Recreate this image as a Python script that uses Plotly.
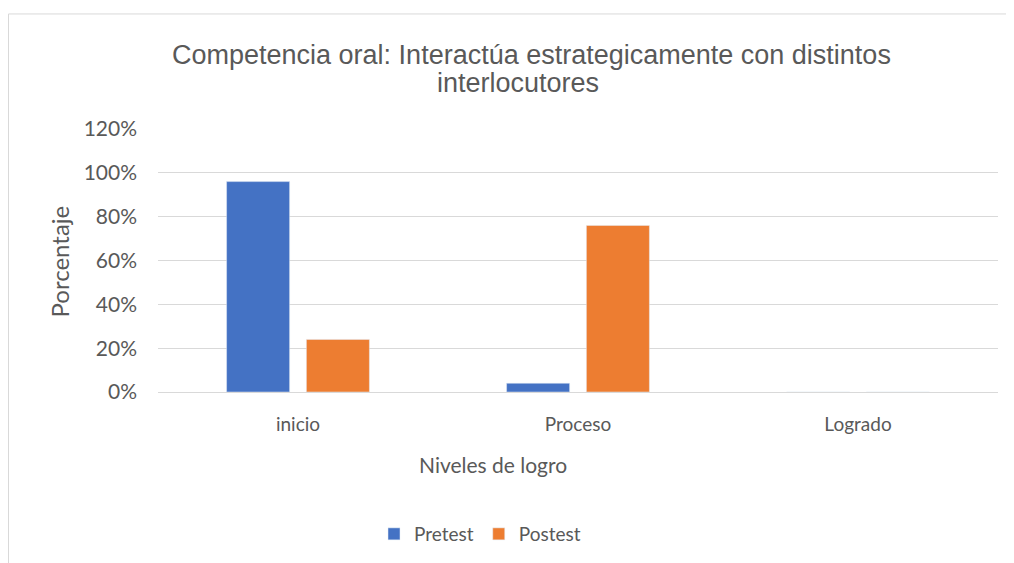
import plotly.graph_objects as go

categories = ["inicio", "Proceso", "Logrado"]
pretest = [0.96, 0.04, 0.0]
postest = [0.24, 0.76, 0.0]
series_names = ["Pretest", "Postest"]
y_ticks = [0, 0.2, 0.4, 0.6, 0.8, 1.0, 1.2]
y_tick_labels = ["0%", "20%", "40%", "60%", "80%", "100%", "120%"]
title_lines = ["Competencia oral: Interactúa estrategicamente con distintos", "interlocutores"]

# page body has an 8px margin; work in window pixel coordinates
OFF = 8
W, H = 1014 - OFF, 563 - OFF
L, R, T, B = 158, 998, 129, 393   # plot area in window pixels

def px(x):
    return (x - L) / (R - L)

def py(y):
    return (B - y) / (B - T)

font_main = "Lato, 'Noto Sans', sans-serif"
font_title = "'Liberation Sans', Arial, sans-serif"
grey = "#595959"

fig = go.Figure()
fig.add_trace(go.Bar(x=categories, y=pretest, name=series_names[0], marker_color="#4472C4"))
fig.add_trace(go.Bar(x=categories, y=postest, name=series_names[1], marker_color="#ED7D31"))

fig.update_layout(
    width=W, height=H,
    margin=dict(l=L - OFF, r=1014 - R, t=T - OFF, b=563 - B),
    paper_bgcolor="white", plot_bgcolor="white",
    barmode="group", bargap=0.43, bargroupgap=0.21,
    font=dict(family=font_main, color=grey, size=19),
    showlegend=True,
    legend=dict(orientation="h", x=px(480), xanchor="center", y=py(534), yanchor="middle",
                font=dict(size=19, color=grey), itemwidth=30, traceorder="normal"),
    annotations=[
        dict(text=title_lines[0], x=px(531), y=py(55), xref="paper", yref="paper",
             showarrow=False, xanchor="center", yanchor="middle",
             font=dict(family=font_title, size=27, color=grey)),
        dict(text=title_lines[1], x=px(518), y=py(83), xref="paper", yref="paper",
             showarrow=False, xanchor="center", yanchor="middle",
             font=dict(family=font_title, size=27, color=grey)),
        dict(text="Niveles de logro", x=px(493), y=py(466), xref="paper", yref="paper",
             showarrow=False, xanchor="center", yanchor="middle",
             font=dict(family=font_main, size=21, color=grey)),
        dict(text="Porcentaje", x=px(59), y=py(262), xref="paper", yref="paper",
             showarrow=False, xanchor="center", yanchor="middle", textangle=-90,
             font=dict(family=font_main, size=24, color=grey)),
    ],
    shapes=[
        dict(type="rect", xref="paper", yref="paper",
             x0=px(8.5), x1=px(1030), y0=py(600), y1=py(13.5),
             line=dict(color="#d9d9d9", width=1), layer="below"),
    ],
)

fig.update_xaxes(showgrid=False, showline=False, ticks="", ticklabelstandoff=19,
                 tickfont=dict(size=19, color=grey))
fig.update_yaxes(range=[0, 1.2], tickvals=y_ticks, ticktext=y_tick_labels,
                 showgrid=True, gridcolor="#d9d9d9", gridwidth=1,
                 zeroline=True, zerolinecolor="#d9d9d9", zerolinewidth=1,
                 showline=False, ticks="", ticklabelstandoff=20,
                 tickfont=dict(size=21, color=grey))

fig.write_html("out.html")
